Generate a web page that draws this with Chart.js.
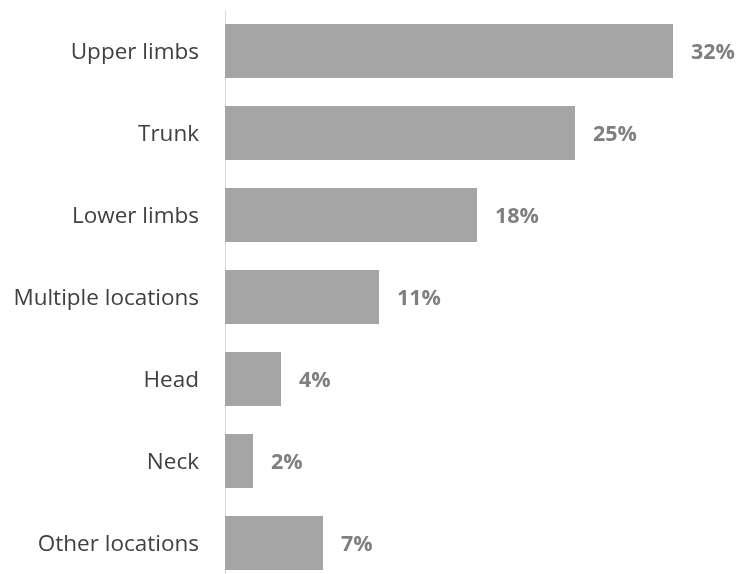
<!DOCTYPE html>
<html>
<head>
<meta charset="utf-8">
<script src="https://cdn.jsdelivr.net/npm/chart.js@4/dist/chart.umd.min.js"></script>
<style>
    html, body { margin: 0; padding: 0; background: #fff; overflow: hidden; }
    #wrap { position: relative; width: 740px; height: 584px; }
</style>
</head>
<body>
<div id="wrap"><canvas id="injuryChart"></canvas></div>
<script>
// Injury location share, %
const locations = ['Upper limbs', 'Trunk', 'Lower limbs', 'Multiple locations', 'Head', 'Neck', 'Other locations'];
const shares = [32, 25, 18, 11, 4, 2, 7];

const FONT = '"Open Sans", "Segoe UI", sans-serif';

// Подписи значений справа от столбцов
const valueLabels = {
    id: 'valueLabels',
    afterDatasetsDraw(chart) {
        const { ctx } = chart;
        const meta = chart.getDatasetMeta(0);
        ctx.save();
        ctx.font = 'bold 21.5px ' + FONT;
        ctx.fillStyle = '#7f7f7f';
        ctx.textAlign = 'left';
        ctx.textBaseline = 'middle';
        meta.data.forEach((bar, i) => {
            ctx.fillText(`${shares[i]}%`, bar.x + 18, bar.y + 2);
        });
        ctx.restore();
    }
};

new Chart(document.getElementById('injuryChart'), {
    type: 'bar',
    data: {
        labels: locations,
        datasets: [{
            data: shares,
            backgroundColor: '#a5a5a5',
            categoryPercentage: 1,
            barPercentage: 0.66
        }]
    },
    options: {
        indexAxis: 'y',
        responsive: true,
        maintainAspectRatio: false,
        animation: false,
        layout: { padding: { top: 10, right: 11, bottom: 0, left: 0 } },
        plugins: {
            legend: { display: false },
            tooltip: { enabled: false }
        },
        scales: {
            x: {
                display: false,
                min: 0,
                max: 36
            },
            y: {
                afterFit: (scale) => {
                    scale.width = 225;
                    scale.paddingTop = 0;
                    scale.paddingBottom = 0;
                },
                grid: { drawOnChartArea: false, drawTicks: true, tickLength: 26, tickColor: 'rgba(0,0,0,0)' },
                border: { display: true, color: '#d9d9d9', width: 1 },
                ticks: {
                    padding: 0,
                    labelOffset: 2,
                    color: '#404040',
                    font: { family: FONT, size: 22.5 }
                }
            }
        }
    },
    plugins: [valueLabels]
});
</script>
</body>
</html>
